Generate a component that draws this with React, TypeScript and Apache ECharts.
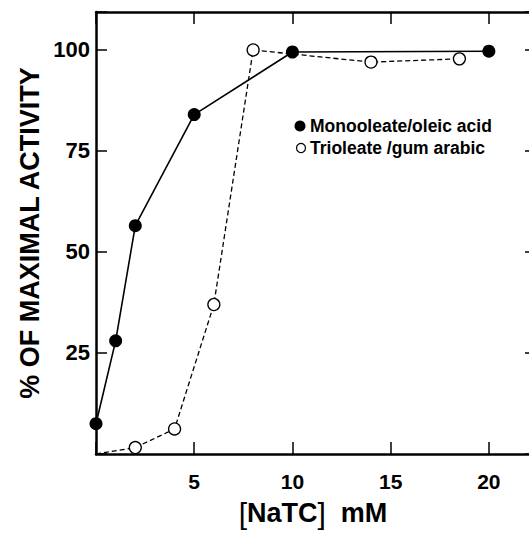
import React, { useEffect, useRef } from "react";
import * as echarts from "echarts";

const monoX = [0, 1, 2, 5, 10, 20];
const monoY = [7.5, 28, 56.5, 84, 99.5, 99.7];
const trioX = [0, 2, 4, 6, 8, 14, 18.5];
const trioY = [0, 1.6, 6.2, 37, 100, 97, 97.8];
const yTicks = [25, 50, 75, 100];
const xTicks = [5, 10, 15, 20];
const legendNames = ["Monooleate/oleic acid", "Trioleate /gum arabic"];

const FONT = "'Liberation Sans', Arial, Helvetica, sans-serif";

export default function App() {
  const ref = useRef<HTMLDivElement>(null);
  useEffect(() => {
    if (!ref.current) return;
    const chart = echarts.init(ref.current, null, { renderer: "svg" });
    const axisLine = { show: true, onZero: false, lineStyle: { color: "#000", width: 2.5 } };
    const tickStyle = { color: "#000", width: 1.5 };
    const option: any = {
      animation: false,
      backgroundColor: "#fff",
      grid: { left: 96, top: 12, right: 4, bottom: 79, containLabel: false },
      xAxis: [
        {
          type: "value",
          min: 0,
          max: 22.4,
          interval: 5,
          position: "bottom",
          axisLine,
          axisTick: { show: true, inside: true, length: 12, lineStyle: tickStyle },
          splitLine: { show: false },
          axisLabel: {
            margin: 17,
            color: "#000",
            fontFamily: FONT,
            fontWeight: "bold",
            fontSize: 21,
            formatter: (v: number) => (xTicks.includes(v) ? String(v) : ""),
          },
        },
        {
          type: "value",
          min: 0,
          max: 22.4,
          interval: 5,
          position: "top",
          axisLine,
          axisTick: { show: true, inside: true, length: 12, lineStyle: tickStyle },
          splitLine: { show: false },
          axisLabel: { show: false },
        },
      ],
      yAxis: [
        {
          type: "value",
          min: 0,
          max: 109.4,
          interval: 25,
          position: "left",
          axisLine,
          axisTick: { show: true, inside: true, length: 11, lineStyle: tickStyle },
          splitLine: { show: false },
          axisLabel: {
            margin: 6,
            color: "#000",
            fontFamily: FONT,
            fontWeight: "bold",
            fontSize: 22,
            formatter: (v: number) => (yTicks.includes(v) ? String(v) : ""),
          },
        },
        {
          type: "value",
          min: 0,
          max: 109.4,
          interval: 25,
          position: "right",
          axisLine,
          axisTick: { show: true, inside: true, length: 11, lineStyle: tickStyle },
          splitLine: { show: false },
          axisLabel: { show: false },
        },
      ],
      series: [
        {
          name: legendNames[0],
          type: "line",
          data: monoX.map((x, i) => [x, monoY[i]]),
          symbol: "circle",
          symbolSize: 13,
          itemStyle: { color: "#000", borderColor: "#000", borderWidth: 0 },
          lineStyle: { color: "#000", width: 1.6, type: "solid" },
          z: 3,
        },
        {
          name: legendNames[1],
          type: "line",
          data: trioX.map((x, i) =>
            i === 0
              ? { value: [x, trioY[i]], symbol: "none" }
              : { value: [x, trioY[i]] }
          ),
          symbol: "circle",
          symbolSize: 12,
          itemStyle: { color: "#fff", borderColor: "#000", borderWidth: 1.3 },
          lineStyle: { color: "#000", width: 1.3, type: [5, 3] },
          z: 4,
        },
      ],
      graphic: [
        {
          type: "circle",
          shape: { cx: 300, cy: 126, r: 5.5 },
          style: { fill: "#000" },
        },
        {
          type: "text",
          x: 310,
          y: 126,
          style: {
            text: legendNames[0],
            fill: "#000",
            font: `bold 17.5px ${FONT}`,
            verticalAlign: "middle",
          },
        },
        {
          type: "circle",
          shape: { cx: 301, cy: 148, r: 4.5 },
          style: { fill: "#fff", stroke: "#000", lineWidth: 1.2 },
        },
        {
          type: "text",
          x: 310,
          y: 148,
          style: {
            text: legendNames[1],
            fill: "#000",
            font: `bold 17.5px ${FONT}`,
            verticalAlign: "middle",
          },
        },
        {
          type: "text",
          x: 30,
          y: 233,
          rotation: Math.PI / 2,
          style: {
            text: "% OF MAXIMAL ACTIVITY",
            fill: "#000",
            font: `bold 27px ${FONT}`,
            align: "center",
            verticalAlign: "middle",
          },
        },
        {
          type: "text",
          x: 313,
          y: 513,
          style: {
            text: "{b|[}NaTC{b|]}  mM",
            fill: "#000",
            font: `bold 27px ${FONT}`,
            align: "center",
            verticalAlign: "middle",
            rich: {
              b: { font: `30px ${FONT}`, fill: "#000" },
            },
          },
        },
      ],
    };
    chart.setOption(option);
    return () => chart.dispose();
  }, []);
  return (
    <div
      style={{
        position: "fixed",
        left: 0,
        top: 0,
        width: 529,
        height: 533,
        overflow: "hidden",
        background: "#fff",
      }}
    >
      <div ref={ref} style={{ width: 540, height: 533 }} />
    </div>
  );
}
